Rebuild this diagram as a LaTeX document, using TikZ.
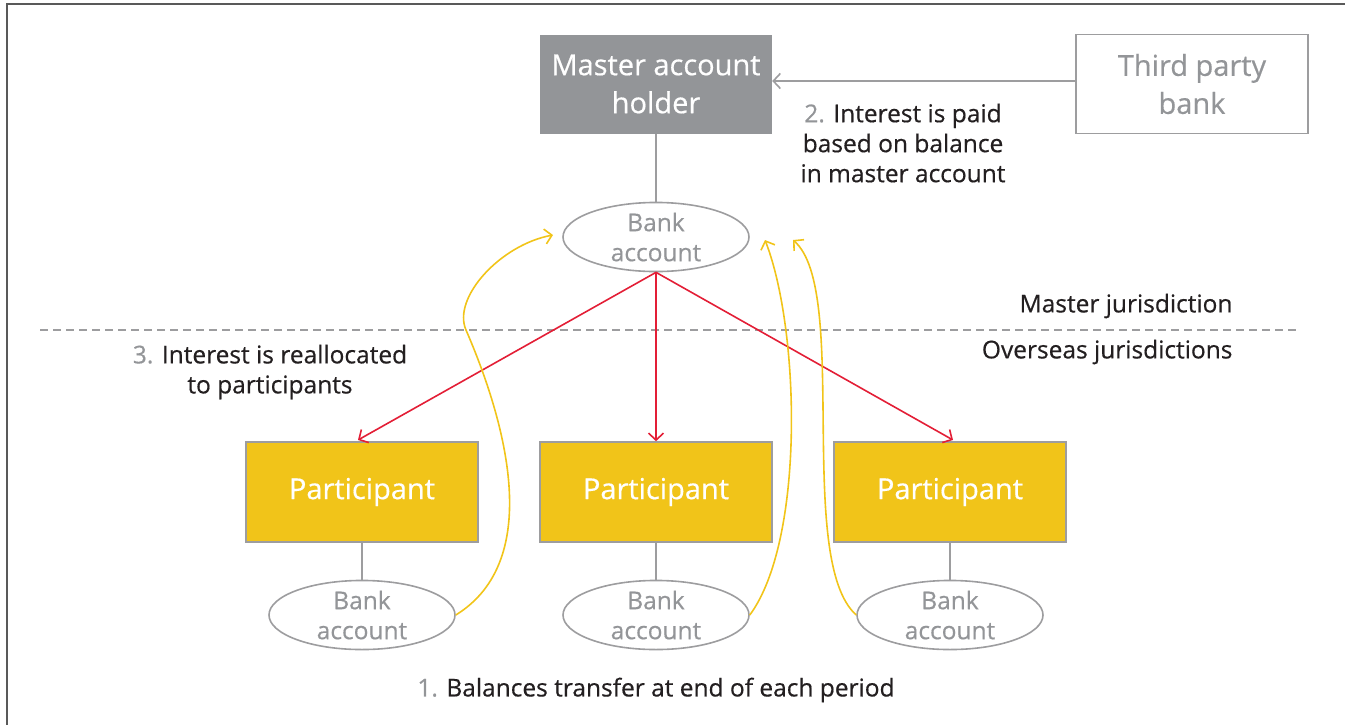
\documentclass[tikz,border=0pt]{standalone}
\usepackage{fontspec}
\setmainfont{Open Sans}[FakeBold=0.5]
\usetikzlibrary{shapes.geometric,arrows.meta}

\definecolor{boxgray}{HTML}{939598}
\definecolor{linegray}{HTML}{9D9D9F}
\definecolor{partyellow}{HTML}{F1C419}
\definecolor{flowred}{HTML}{E31E36}
\definecolor{textdark}{HTML}{231F20}

\begin{document}
\begin{tikzpicture}[x=1pt,y=-1pt,
    box/.style={rectangle, minimum width=232pt, minimum height=99pt, inner sep=0pt, align=center,
      font=\fontsize{29}{38}\selectfont},
    acct/.style={ellipse, draw=linegray, line width=1.6pt, minimum width=186pt, minimum height=68pt,
      inner sep=0pt, align=center, text=boxgray, font=\fontsize{24.5}{30}\selectfont},
    note/.style={align=center, text=textdark, font=\fontsize{24.5}{30}\selectfont},
    tip/.style={-{Straight Barb[length=7pt,width=15pt,line width=1.6pt]}},
  ]
    \useasboundingbox (0,0) rectangle (1345,724);

    % frame edges
    \draw [black!65, line width=2pt] (7,725) -- (7,4) -- (1346,4);

    % jurisdiction split
    \draw [linegray, line width=1.2pt, dash pattern=on 8pt off 5pt] (40,330) -- (1296,330);
    \node [note, anchor=east] (mj) at (1236,306) {Master jurisdiction};
    \node [note, anchor=east] (oj) at (1236,352) {Overseas jurisdictions};

    % top level
    \node [box, fill=boxgray, text=white] (mah) at (656,84) {Master account\\holder};
    \node [box, draw=linegray, line width=1.6pt, text=boxgray] (tpb) at (1192,84) {Third party\\bank};
    \node [acct] (macc) at (656,237) {Bank\\account};
    \draw [linegray, line width=1.6pt] (mah) -- (macc);
    \draw [linegray, line width=1.6pt, tip] (tpb.west |- 0,81) -- (mah.east |- 0,81);
    \node [note] (n2) at (903,143) {{\color{boxgray}2.} Interest is paid\\based on balance\\in master account};

    % participants
    \node [box, fill=partyellow, draw=linegray, line width=1.6pt, text=white, minimum height=100pt] (p1) at (362,492) {Participant};
    \node [box, fill=partyellow, draw=linegray, line width=1.6pt, text=white, minimum height=100pt] (p2) at (656,492) {Participant};
    \node [box, fill=partyellow, draw=linegray, line width=1.6pt, text=white, minimum height=100pt] (p3) at (950,492) {Participant};
    \node [acct] (a1) at (362,615) {Bank\\account};
    \node [acct] (a2) at (656,615) {Bank\\account};
    \node [acct] (a3) at (950,615) {Bank\\account};
    \draw [linegray, line width=1.6pt] (p1) -- (a1);
    \draw [linegray, line width=1.6pt] (p2) -- (a2);
    \draw [linegray, line width=1.6pt] (p3) -- (a3);

    % 3. reallocation
    \coordinate (r1) at (358,440);
    \coordinate (r3) at (953,440);
    \draw [flowred, line width=1.6pt, tip] (macc.south) -- (r1);
    \draw [flowred, line width=1.6pt, tip] (macc.south) -- (p2.north);
    \draw [flowred, line width=1.6pt, tip] (macc.south) -- (r3);
    \node [note] (n3) at (270,372) {{\color{boxgray}3.} Interest is reallocated\\to participants};

    % 1. balance transfers
    \coordinate (b1) at (553,235);
    \coordinate (b2) at (765,240);
    \coordinate (b3) at (793,240);
    \draw [partyellow, line width=1.6pt, tip] (a1.east) .. controls (545,560) and (505,420) .. (466,330)
      .. controls (452,298) and (500,245) .. (b1);
    \draw [partyellow, line width=1.6pt, tip] (a2.east) .. controls (805,540) and (800,330) .. (b2);
    \draw [partyellow, line width=1.6pt, tip] (a3.west) .. controls (795,560) and (850,290) .. (b3);
    \node [note] (n1) at (656,690) {{\color{boxgray}1.} Balances transfer at end of each period};
  \end{tikzpicture}
\end{document}
